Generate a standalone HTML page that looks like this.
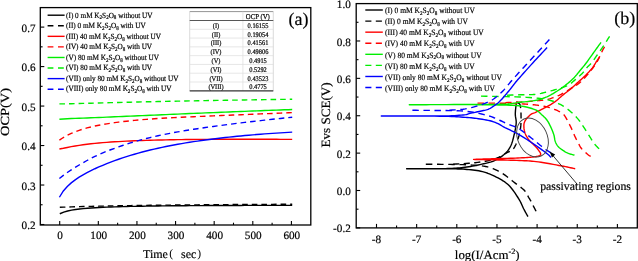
<!DOCTYPE html>
<html><head><meta charset="utf-8"><style>
html,body{margin:0;padding:0;background:#fff;}
svg{display:block;will-change:transform;}
text{font-family:"Liberation Serif",serif;fill:#000;text-rendering:geometricPrecision;stroke:#000;stroke-width:0.18px;}
.tl{font-size:11.2px;}
.lg{font-size:7.9px;}
.lg2{font-size:8.1px;}
.sub{font-size:5.5px;}
.tb{font-size:6.4px;}
.pl{font-size:18px;}
.al{font-size:12px;}
.ann{font-size:11.8px;}
.sup{font-size:8px;}
</style></head><body>
<svg width="638" height="261" viewBox="0 0 638 261">
<rect width="638" height="261" fill="#fff"/>
<path d="M59.80,213.74 L63.74,212.08 L67.68,210.97 L71.62,210.15 L75.56,209.53 L79.49,209.02 L83.43,208.61 L87.37,208.27 L91.31,207.97 L95.25,207.72 L99.19,207.50 L103.13,207.31 L107.07,207.14 L111.01,206.98 L114.95,206.85 L118.88,206.72 L122.82,206.61 L126.76,206.51 L130.70,206.42 L134.64,206.33 L138.58,206.26 L142.52,206.19 L146.46,206.12 L150.40,206.06 L154.34,206.01 L158.27,205.96 L162.21,205.91 L166.15,205.86 L170.09,205.82 L174.03,205.79 L177.97,205.75 L181.91,205.72 L185.85,205.69 L189.79,205.66 L193.73,205.63 L197.66,205.61 L201.60,205.59 L205.54,205.57 L209.48,205.55 L213.42,205.53 L217.36,205.51 L221.30,205.50 L225.24,205.48 L229.18,205.47 L233.12,205.45 L237.05,205.44 L240.99,205.43 L244.93,205.42 L248.87,205.41 L252.81,205.41 L256.75,205.40 L260.69,205.39 L264.63,205.39 L268.57,205.38 L272.51,205.37 L276.44,205.37 L280.38,205.37 L284.32,205.36 L288.26,205.36 L292.20,205.36" fill="none" stroke="#000" stroke-width="1.4"/>
<path d="M59.80,207.20 L63.74,207.15 L67.68,207.04 L71.62,206.91 L75.56,206.79 L79.49,206.67 L83.43,206.56 L87.37,206.45 L91.31,206.35 L95.25,206.25 L99.19,206.16 L103.13,206.08 L107.07,205.99 L111.01,205.92 L114.95,205.84 L118.88,205.77 L122.82,205.71 L126.76,205.64 L130.70,205.58 L134.64,205.52 L138.58,205.47 L142.52,205.41 L146.46,205.36 L150.40,205.31 L154.34,205.26 L158.27,205.22 L162.21,205.17 L166.15,205.13 L170.09,205.09 L174.03,205.05 L177.97,205.01 L181.91,204.97 L185.85,204.94 L189.79,204.90 L193.73,204.87 L197.66,204.83 L201.60,204.80 L205.54,204.77 L209.48,204.74 L213.42,204.71 L217.36,204.68 L221.30,204.65 L225.24,204.62 L229.18,204.60 L233.12,204.57 L237.05,204.54 L240.99,204.52 L244.93,204.50 L248.87,204.47 L252.81,204.45 L256.75,204.43 L260.69,204.40 L264.63,204.38 L268.57,204.36 L272.51,204.34 L276.44,204.32 L280.38,204.30 L284.32,204.28 L288.26,204.26 L292.20,204.25" fill="none" stroke="#000" stroke-width="1.4" stroke-dasharray="5.6,4.0"/>
<path d="M59.40,148.94 L63.35,148.25 L67.29,147.45 L71.24,146.68 L75.18,145.97 L79.13,145.34 L83.07,144.77 L87.02,144.26 L90.97,143.80 L94.91,143.39 L98.86,143.01 L102.80,142.67 L106.75,142.36 L110.69,142.07 L114.64,141.82 L118.59,141.58 L122.53,141.36 L126.48,141.16 L130.42,140.98 L134.37,140.81 L138.32,140.66 L142.26,140.52 L146.21,140.39 L150.15,140.27 L154.10,140.15 L158.04,140.05 L161.99,139.96 L165.94,139.88 L169.88,139.80 L173.83,139.73 L177.77,139.66 L181.72,139.60 L185.66,139.55 L189.61,139.50 L193.56,139.46 L197.50,139.42 L201.45,139.39 L205.39,139.36 L209.34,139.33 L213.28,139.31 L217.23,139.29 L221.18,139.27 L225.12,139.26 L229.07,139.25 L233.01,139.24 L236.96,139.24 L240.91,139.23 L244.85,139.23 L248.80,139.24 L252.74,139.24 L256.69,139.25 L260.63,139.26 L264.58,139.27 L268.53,139.28 L272.47,139.30 L276.42,139.31 L280.36,139.33 L284.31,139.35 L288.25,139.37 L292.20,139.39" fill="none" stroke="#ff0000" stroke-width="1.4"/>
<path d="M59.40,140.15 L63.35,137.54 L67.29,135.30 L71.24,133.39 L75.18,131.75 L79.13,130.32 L83.07,129.06 L87.02,127.94 L90.97,126.95 L94.91,126.05 L98.86,125.24 L102.80,124.50 L106.75,123.83 L110.69,123.21 L114.64,122.64 L118.59,122.12 L122.53,121.63 L126.48,121.18 L130.42,120.76 L134.37,120.37 L138.32,120.01 L142.26,119.67 L146.21,119.36 L150.15,119.06 L154.10,118.78 L158.04,118.52 L161.99,118.28 L165.94,118.05 L169.88,117.83 L173.83,117.62 L177.77,117.42 L181.72,117.23 L185.66,117.04 L189.61,116.86 L193.56,116.69 L197.50,116.51 L201.45,116.34 L205.39,116.18 L209.34,116.01 L213.28,115.85 L217.23,115.69 L221.18,115.53 L225.12,115.37 L229.07,115.21 L233.01,115.05 L236.96,114.89 L240.91,114.73 L244.85,114.57 L248.80,114.41 L252.74,114.24 L256.69,114.08 L260.63,113.92 L264.58,113.76 L268.53,113.59 L272.47,113.43 L276.42,113.26 L280.36,113.10 L284.31,112.93 L288.25,112.76 L292.20,112.59" fill="none" stroke="#ff0000" stroke-width="1.4" stroke-dasharray="5.6,4.0"/>
<path d="M59.40,119.27 L63.35,118.93 L67.29,118.72 L71.24,118.56 L75.18,118.42 L79.13,118.27 L83.07,118.12 L87.02,117.97 L90.97,117.82 L94.91,117.66 L98.86,117.49 L102.80,117.33 L106.75,117.16 L110.69,116.99 L114.64,116.82 L118.59,116.65 L122.53,116.48 L126.48,116.31 L130.42,116.13 L134.37,115.96 L138.32,115.79 L142.26,115.61 L146.21,115.44 L150.15,115.27 L154.10,115.10 L158.04,114.93 L161.99,114.75 L165.94,114.58 L169.88,114.41 L173.83,114.24 L177.77,114.08 L181.72,113.91 L185.66,113.74 L189.61,113.57 L193.56,113.41 L197.50,113.24 L201.45,113.08 L205.39,112.92 L209.34,112.75 L213.28,112.59 L217.23,112.43 L221.18,112.27 L225.12,112.11 L229.07,111.95 L233.01,111.80 L236.96,111.64 L240.91,111.48 L244.85,111.33 L248.80,111.17 L252.74,111.02 L256.69,110.87 L260.63,110.72 L264.58,110.57 L268.53,110.42 L272.47,110.27 L276.42,110.12 L280.36,109.97 L284.31,109.82 L288.25,109.68 L292.20,109.53" fill="none" stroke="#00ee00" stroke-width="1.4"/>
<path d="M59.40,103.90 L63.35,103.88 L67.29,103.81 L71.24,103.72 L75.18,103.62 L79.13,103.52 L83.07,103.41 L87.02,103.30 L90.97,103.19 L94.91,103.09 L98.86,102.98 L102.80,102.87 L106.75,102.77 L110.69,102.67 L114.64,102.57 L118.59,102.47 L122.53,102.37 L126.48,102.27 L130.42,102.18 L134.37,102.09 L138.32,101.99 L142.26,101.90 L146.21,101.82 L150.15,101.73 L154.10,101.64 L158.04,101.56 L161.99,101.48 L165.94,101.39 L169.88,101.31 L173.83,101.23 L177.77,101.15 L181.72,101.08 L185.66,101.00 L189.61,100.92 L193.56,100.85 L197.50,100.78 L201.45,100.70 L205.39,100.63 L209.34,100.56 L213.28,100.49 L217.23,100.42 L221.18,100.35 L225.12,100.28 L229.07,100.22 L233.01,100.15 L236.96,100.09 L240.91,100.02 L244.85,99.96 L248.80,99.89 L252.74,99.83 L256.69,99.77 L260.63,99.71 L264.58,99.64 L268.53,99.58 L272.47,99.52 L276.42,99.46 L280.36,99.40 L284.31,99.35 L288.25,99.29 L292.20,99.23" fill="none" stroke="#00ee00" stroke-width="1.4" stroke-dasharray="5.6,4.0"/>
<path d="M59.40,197.25 L63.35,190.97 L67.29,186.46 L71.24,182.88 L75.18,179.85 L79.13,177.20 L83.07,174.82 L87.02,172.65 L90.97,170.63 L94.91,168.74 L98.86,166.97 L102.80,165.29 L106.75,163.68 L110.69,162.15 L114.64,160.68 L118.59,159.27 L122.53,157.93 L126.48,156.64 L130.42,155.41 L134.37,154.24 L138.32,153.12 L142.26,152.05 L146.21,151.03 L150.15,150.05 L154.10,149.11 L158.04,148.22 L161.99,147.36 L165.94,146.54 L169.88,145.75 L173.83,145.00 L177.77,144.28 L181.72,143.58 L185.66,142.92 L189.61,142.28 L193.56,141.67 L197.50,141.08 L201.45,140.51 L205.39,139.97 L209.34,139.45 L213.28,138.94 L217.23,138.46 L221.18,138.00 L225.12,137.55 L229.07,137.12 L233.01,136.71 L236.96,136.31 L240.91,135.93 L244.85,135.56 L248.80,135.21 L252.74,134.87 L256.69,134.54 L260.63,134.23 L264.58,133.92 L268.53,133.63 L272.47,133.35 L276.42,133.09 L280.36,132.83 L284.31,132.58 L288.25,132.34 L292.20,132.11" fill="none" stroke="#0000ff" stroke-width="1.4"/>
<path d="M59.40,178.48 L63.35,175.36 L67.29,172.54 L71.24,169.90 L75.18,167.40 L79.13,165.01 L83.07,162.72 L87.02,160.51 L90.97,158.40 L94.91,156.41 L98.86,154.56 L102.80,152.85 L106.75,151.26 L110.69,149.74 L114.64,148.28 L118.59,146.86 L122.53,145.50 L126.48,144.19 L130.42,142.95 L134.37,141.76 L138.32,140.63 L142.26,139.56 L146.21,138.54 L150.15,137.56 L154.10,136.63 L158.04,135.75 L161.99,134.90 L165.94,134.10 L169.88,133.33 L173.83,132.59 L177.77,131.88 L181.72,131.20 L185.66,130.54 L189.61,129.91 L193.56,129.29 L197.50,128.70 L201.45,128.11 L205.39,127.54 L209.34,126.99 L213.28,126.45 L217.23,125.91 L221.18,125.39 L225.12,124.87 L229.07,124.37 L233.01,123.87 L236.96,123.38 L240.91,122.90 L244.85,122.42 L248.80,121.96 L252.74,121.50 L256.69,121.04 L260.63,120.60 L264.58,120.16 L268.53,119.72 L272.47,119.29 L276.42,118.87 L280.36,118.46 L284.31,118.05 L288.25,117.64 L292.20,117.24" fill="none" stroke="#0000ff" stroke-width="1.4" stroke-dasharray="5.6,4.0"/>
<rect x="40.3" y="7.6" width="270.5" height="217.4" fill="none" stroke="#000" stroke-width="1.3"/>
<line x1="40.3" y1="224.50" x2="44.3" y2="224.50" stroke="#000" stroke-width="1.1"/>
<text x="35.6" y="229.10" class="tl" text-anchor="end">0.2</text>
<line x1="40.3" y1="204.76" x2="42.599999999999994" y2="204.76" stroke="#000" stroke-width="1.1"/>
<line x1="40.3" y1="185.02" x2="44.3" y2="185.02" stroke="#000" stroke-width="1.1"/>
<text x="35.6" y="189.62" class="tl" text-anchor="end">0.3</text>
<line x1="40.3" y1="165.28" x2="42.599999999999994" y2="165.28" stroke="#000" stroke-width="1.1"/>
<line x1="40.3" y1="145.54" x2="44.3" y2="145.54" stroke="#000" stroke-width="1.1"/>
<text x="35.6" y="150.14" class="tl" text-anchor="end">0.4</text>
<line x1="40.3" y1="125.80" x2="42.599999999999994" y2="125.80" stroke="#000" stroke-width="1.1"/>
<line x1="40.3" y1="106.06" x2="44.3" y2="106.06" stroke="#000" stroke-width="1.1"/>
<text x="35.6" y="110.66" class="tl" text-anchor="end">0.5</text>
<line x1="40.3" y1="86.32" x2="42.599999999999994" y2="86.32" stroke="#000" stroke-width="1.1"/>
<line x1="40.3" y1="66.58" x2="44.3" y2="66.58" stroke="#000" stroke-width="1.1"/>
<text x="35.6" y="71.18" class="tl" text-anchor="end">0.6</text>
<line x1="40.3" y1="46.84" x2="42.599999999999994" y2="46.84" stroke="#000" stroke-width="1.1"/>
<line x1="40.3" y1="27.10" x2="44.3" y2="27.10" stroke="#000" stroke-width="1.1"/>
<text x="35.6" y="31.70" class="tl" text-anchor="end">0.7</text>
<line x1="59.70" y1="225.0" x2="59.70" y2="221.0" stroke="#000" stroke-width="1.1"/>
<text x="60.10" y="239.0" class="tl" text-anchor="middle">0</text>
<line x1="79.01" y1="225.0" x2="79.01" y2="222.7" stroke="#000" stroke-width="1.1"/>
<line x1="98.32" y1="225.0" x2="98.32" y2="221.0" stroke="#000" stroke-width="1.1"/>
<text x="98.72" y="239.0" class="tl" text-anchor="middle">100</text>
<line x1="117.63" y1="225.0" x2="117.63" y2="222.7" stroke="#000" stroke-width="1.1"/>
<line x1="136.94" y1="225.0" x2="136.94" y2="221.0" stroke="#000" stroke-width="1.1"/>
<text x="137.34" y="239.0" class="tl" text-anchor="middle">200</text>
<line x1="156.25" y1="225.0" x2="156.25" y2="222.7" stroke="#000" stroke-width="1.1"/>
<line x1="175.56" y1="225.0" x2="175.56" y2="221.0" stroke="#000" stroke-width="1.1"/>
<text x="175.96" y="239.0" class="tl" text-anchor="middle">300</text>
<line x1="194.87" y1="225.0" x2="194.87" y2="222.7" stroke="#000" stroke-width="1.1"/>
<line x1="214.18" y1="225.0" x2="214.18" y2="221.0" stroke="#000" stroke-width="1.1"/>
<text x="214.58" y="239.0" class="tl" text-anchor="middle">400</text>
<line x1="233.49" y1="225.0" x2="233.49" y2="222.7" stroke="#000" stroke-width="1.1"/>
<line x1="252.80" y1="225.0" x2="252.80" y2="221.0" stroke="#000" stroke-width="1.1"/>
<text x="253.20" y="239.0" class="tl" text-anchor="middle">500</text>
<line x1="272.11" y1="225.0" x2="272.11" y2="222.7" stroke="#000" stroke-width="1.1"/>
<line x1="291.42" y1="225.0" x2="291.42" y2="221.0" stroke="#000" stroke-width="1.1"/>
<text x="291.82" y="239.0" class="tl" text-anchor="middle">600</text>
<line x1="47.6" y1="15.20" x2="64.6" y2="15.20" stroke="#000" stroke-width="1.4"/>
<text transform="translate(66.1,17.50) scale(0.915,1)" class="lg">(I) 0 mM K<tspan class="sub" dy="1.9">2</tspan><tspan dy="-1.9">S</tspan><tspan class="sub" dy="1.9">2</tspan><tspan dy="-1.9">O</tspan><tspan class="sub" dy="1.9">8</tspan><tspan dy="-1.9"> </tspan>without UV</text>
<line x1="47.6" y1="25.77" x2="64.6" y2="25.77" stroke="#000" stroke-width="1.4" stroke-dasharray="5.8,4.6"/>
<text transform="translate(66.1,28.07) scale(0.915,1)" class="lg">(II) 0 mM K<tspan class="sub" dy="1.9">2</tspan><tspan dy="-1.9">S</tspan><tspan class="sub" dy="1.9">2</tspan><tspan dy="-1.9">O</tspan><tspan class="sub" dy="1.9">8</tspan><tspan dy="-1.9"> </tspan>with UV</text>
<line x1="47.6" y1="36.34" x2="64.6" y2="36.34" stroke="#ff0000" stroke-width="1.4"/>
<text transform="translate(66.1,38.64) scale(0.915,1)" class="lg">(III) 40 mM K<tspan class="sub" dy="1.9">2</tspan><tspan dy="-1.9">S</tspan><tspan class="sub" dy="1.9">2</tspan><tspan dy="-1.9">O</tspan><tspan class="sub" dy="1.9">8</tspan><tspan dy="-1.9"> </tspan>without UV</text>
<line x1="47.6" y1="46.91" x2="64.6" y2="46.91" stroke="#ff0000" stroke-width="1.4" stroke-dasharray="5.8,4.6"/>
<text transform="translate(66.1,49.21) scale(0.915,1)" class="lg">(IV) 40 mM K<tspan class="sub" dy="1.9">2</tspan><tspan dy="-1.9">S</tspan><tspan class="sub" dy="1.9">2</tspan><tspan dy="-1.9">O</tspan><tspan class="sub" dy="1.9">8</tspan><tspan dy="-1.9"> </tspan>with UV</text>
<line x1="47.6" y1="57.48" x2="64.6" y2="57.48" stroke="#00ee00" stroke-width="1.4"/>
<text transform="translate(66.1,59.78) scale(0.915,1)" class="lg">(V) 80 mM K<tspan class="sub" dy="1.9">2</tspan><tspan dy="-1.9">S</tspan><tspan class="sub" dy="1.9">2</tspan><tspan dy="-1.9">O</tspan><tspan class="sub" dy="1.9">8</tspan><tspan dy="-1.9"> </tspan>without UV</text>
<line x1="47.6" y1="68.05" x2="64.6" y2="68.05" stroke="#00ee00" stroke-width="1.4" stroke-dasharray="5.8,4.6"/>
<text transform="translate(66.1,70.35) scale(0.915,1)" class="lg">(VI) 80 mM K<tspan class="sub" dy="1.9">2</tspan><tspan dy="-1.9">S</tspan><tspan class="sub" dy="1.9">2</tspan><tspan dy="-1.9">O</tspan><tspan class="sub" dy="1.9">8</tspan><tspan dy="-1.9"> </tspan>with UV</text>
<line x1="47.6" y1="78.62" x2="64.6" y2="78.62" stroke="#0000ff" stroke-width="1.4"/>
<text transform="translate(66.1,80.92) scale(0.915,1)" class="lg">(VII) only 80 mM K<tspan class="sub" dy="1.9">2</tspan><tspan dy="-1.9">S</tspan><tspan class="sub" dy="1.9">2</tspan><tspan dy="-1.9">O</tspan><tspan class="sub" dy="1.9">8</tspan><tspan dy="-1.9"> </tspan>without UV</text>
<line x1="47.6" y1="89.19" x2="64.6" y2="89.19" stroke="#0000ff" stroke-width="1.4" stroke-dasharray="5.8,4.6"/>
<text transform="translate(66.1,91.49) scale(0.915,1)" class="lg">(VIII) only 80 mM K<tspan class="sub" dy="1.9">2</tspan><tspan dy="-1.9">S</tspan><tspan class="sub" dy="1.9">2</tspan><tspan dy="-1.9">O</tspan><tspan class="sub" dy="1.9">8</tspan><tspan dy="-1.9"> </tspan>with UV</text>
<rect x="189.7" y="11.6" width="83.60000000000002" height="79.2" fill="#fff" stroke="none"/>
<line x1="189.7" y1="11.6" x2="273.3" y2="11.6" stroke="#777" stroke-width="0.8"/>
<line x1="189.7" y1="11.6" x2="189.7" y2="90.8" stroke="#ccc" stroke-width="0.7"/>
<line x1="273.3" y1="11.6" x2="273.3" y2="90.8" stroke="#ccc" stroke-width="0.7"/>
<line x1="242.9" y1="11.6" x2="242.9" y2="90.8" stroke="#ddd" stroke-width="0.7"/>
<line x1="189.7" y1="20.5" x2="273.3" y2="20.5" stroke="#444" stroke-width="0.9"/>
<line x1="189.7" y1="29.29" x2="273.3" y2="29.29" stroke="#ddd" stroke-width="0.7"/>
<line x1="189.7" y1="38.08" x2="273.3" y2="38.08" stroke="#ddd" stroke-width="0.7"/>
<line x1="189.7" y1="46.86" x2="273.3" y2="46.86" stroke="#ddd" stroke-width="0.7"/>
<line x1="189.7" y1="55.65" x2="273.3" y2="55.65" stroke="#ddd" stroke-width="0.7"/>
<line x1="189.7" y1="64.44" x2="273.3" y2="64.44" stroke="#ddd" stroke-width="0.7"/>
<line x1="189.7" y1="73.22" x2="273.3" y2="73.22" stroke="#ddd" stroke-width="0.7"/>
<line x1="189.7" y1="82.01" x2="273.3" y2="82.01" stroke="#ddd" stroke-width="0.7"/>
<line x1="189.7" y1="90.8" x2="273.3" y2="90.8" stroke="#333" stroke-width="1.2"/>
<text transform="translate(257.8,19.0) scale(1,1.1)" class="tb" text-anchor="middle" style="font-size:6.8px">OCP (V)</text>
<text transform="translate(216,27.89) scale(1,1.1)" class="tb" text-anchor="middle">(I)</text>
<text transform="translate(258,27.89) scale(1,1.1)" class="tb" text-anchor="middle">0.16155</text>
<text transform="translate(216,36.68) scale(1,1.1)" class="tb" text-anchor="middle">(II)</text>
<text transform="translate(258,36.68) scale(1,1.1)" class="tb" text-anchor="middle">0.19054</text>
<text transform="translate(216,45.47) scale(1,1.1)" class="tb" text-anchor="middle">(III)</text>
<text transform="translate(258,45.47) scale(1,1.1)" class="tb" text-anchor="middle">0.41561</text>
<text transform="translate(216,54.26) scale(1,1.1)" class="tb" text-anchor="middle">(IV)</text>
<text transform="translate(258,54.26) scale(1,1.1)" class="tb" text-anchor="middle">0.49806</text>
<text transform="translate(216,63.04) scale(1,1.1)" class="tb" text-anchor="middle">(V)</text>
<text transform="translate(258,63.04) scale(1,1.1)" class="tb" text-anchor="middle">0.4915</text>
<text transform="translate(216,71.83) scale(1,1.1)" class="tb" text-anchor="middle">(VI)</text>
<text transform="translate(258,71.83) scale(1,1.1)" class="tb" text-anchor="middle">0.5292</text>
<text transform="translate(216,80.62) scale(1,1.1)" class="tb" text-anchor="middle">(VII)</text>
<text transform="translate(258,80.62) scale(1,1.1)" class="tb" text-anchor="middle">0.43523</text>
<text transform="translate(216,89.41) scale(1,1.1)" class="tb" text-anchor="middle">(VIII)</text>
<text transform="translate(258,89.41) scale(1,1.1)" class="tb" text-anchor="middle">0.4775</text>
<text x="288.6" y="25.3" class="pl">(a)</text>
<text transform="translate(9.4,112.0) rotate(-90)" class="al" text-anchor="middle" style="font-size:12.4px" textLength="48" lengthAdjust="spacingAndGlyphs">OCP(V)</text>
<text x="143.0" y="257.6" class="al">Time</text>
<text x="169.2" y="256.6" class="al" style="font-size:11.6px;stroke-width:0">(</text>
<text x="181.0" y="257.6" class="al">sec</text>
<text x="197.2" y="256.6" class="al" style="font-size:11.6px;stroke-width:0">)</text>
<path d="M527.90,216.60 L527.40,215.67 L526.90,214.77 L526.41,213.87 L525.92,212.97 L525.42,212.06 L524.90,211.10 L524.37,210.08 L523.80,209.00 L523.24,207.86 L522.70,206.68 L522.15,205.45 L521.59,204.19 L520.97,202.87 L520.28,201.50 L519.50,200.08 L518.60,198.60 L517.58,197.00 L516.47,195.27 L515.26,193.45 L513.99,191.59 L512.64,189.74 L511.24,187.96 L509.79,186.30 L508.30,184.80 L506.74,183.45 L505.10,182.20 L503.38,181.04 L501.62,179.95 L499.83,178.93 L498.03,177.98 L496.25,177.07 L494.50,176.20 L492.79,175.38 L491.09,174.62 L489.41,173.93 L487.72,173.28 L486.01,172.69 L484.28,172.15 L482.52,171.65 L480.70,171.20 L478.82,170.80 L476.89,170.47 L474.92,170.20 L472.92,169.97 L470.92,169.77 L468.92,169.60 L466.94,169.45 L465.00,169.30 L463.13,169.17 L461.32,169.07 L459.54,168.99 L457.77,168.94 L455.96,168.90 L454.09,168.86 L452.11,168.83 L450.00,168.80 L447.76,168.77 L445.43,168.74 L443.02,168.73 L440.53,168.72 L437.97,168.71 L435.36,168.71 L432.70,168.70 L430.00,168.70 L427.24,168.70 L424.39,168.69 L421.47,168.69 L418.51,168.69 L415.52,168.70 L412.53,168.70 L409.55,168.70 L406.60,168.70 L409.55,168.70 L412.53,168.70 L415.52,168.71 L418.51,168.71 L421.47,168.71 L424.39,168.71 L427.24,168.71 L430.00,168.70 L432.70,168.69 L435.36,168.69 L437.97,168.68 L440.52,168.67 L443.02,168.66 L445.43,168.62 L447.76,168.57 L450.00,168.50 L452.11,168.41 L454.10,168.31 L455.99,168.19 L457.81,168.06 L459.59,167.90 L461.37,167.73 L463.16,167.53 L465.00,167.30 L466.88,167.04 L468.76,166.76 L470.65,166.45 L472.53,166.12 L474.41,165.77 L476.29,165.39 L478.15,165.01 L480.00,164.60 L481.87,164.19 L483.76,163.78 L485.66,163.36 L487.54,162.91 L489.39,162.43 L491.18,161.91 L492.89,161.34 L494.50,160.70 L496.02,159.99 L497.47,159.21 L498.86,158.37 L500.19,157.49 L501.44,156.59 L502.63,155.66 L503.75,154.73 L504.80,153.80 L505.76,152.89 L506.64,152.00 L507.44,151.10 L508.18,150.19 L508.86,149.24 L509.50,148.23 L510.11,147.16 L510.70,146.00 L511.26,144.74 L511.78,143.39 L512.25,141.96 L512.69,140.48 L513.10,138.98 L513.49,137.46 L513.85,135.96 L514.20,134.50 L514.54,133.05 L514.87,131.57 L515.19,130.09 L515.48,128.61 L515.73,127.14 L515.94,125.71 L516.10,124.33 L516.20,123.00 L516.21,121.75 L516.13,120.58 L515.98,119.46 L515.80,118.37 L515.61,117.28 L515.45,116.17 L515.33,115.02 L515.30,113.80 L515.35,112.43 L515.45,110.91 L515.58,109.31 L515.75,107.71 L515.94,106.18 L516.13,104.80 L516.32,103.65 L516.50,102.80 L516.67,102.29 L516.85,102.06 L517.04,102.05 L517.23,102.20 L517.42,102.43 L517.62,102.69 L517.81,102.90 L518.00,103.00" fill="none" stroke="#000" stroke-width="1.4" stroke-linejoin="round"/>
<path d="M536.10,211.30 L535.79,210.70 L535.47,210.10 L535.15,209.50 L534.84,208.89 L534.52,208.29 L534.21,207.69 L533.90,207.10 L533.60,206.50 L533.31,205.91 L533.02,205.31 L532.74,204.72 L532.46,204.13 L532.18,203.54 L531.90,202.96 L531.61,202.38 L531.30,201.80 L530.98,201.23 L530.65,200.66 L530.30,200.09 L529.96,199.53 L529.61,198.97 L529.26,198.41 L528.93,197.86 L528.60,197.30 L528.29,196.74 L527.99,196.17 L527.70,195.61 L527.42,195.04 L527.13,194.49 L526.84,193.94 L526.53,193.41 L526.20,192.90 L525.89,192.43 L525.61,192.00 L525.34,191.61 L525.05,191.21 L524.72,190.81 L524.32,190.36 L523.82,189.87 L523.20,189.30 L522.48,188.68 L521.69,188.03 L520.82,187.35 L519.88,186.62 L518.84,185.84 L517.73,185.00 L516.51,184.09 L515.20,183.10 L513.75,181.98 L512.16,180.71 L510.45,179.34 L508.66,177.93 L506.83,176.52 L504.99,175.16 L503.16,173.90 L501.40,172.80 L499.70,171.82 L498.04,170.92 L496.39,170.09 L494.74,169.32 L493.05,168.63 L491.32,167.99 L489.51,167.42 L487.60,166.90 L485.60,166.46 L483.52,166.11 L481.38,165.84 L479.19,165.62 L476.94,165.44 L474.66,165.29 L472.34,165.15 L470.00,165.00 L467.64,164.86 L465.27,164.75 L462.86,164.66 L460.41,164.59 L457.91,164.53 L455.35,164.48 L452.72,164.44 L450.00,164.40 L447.18,164.36 L444.25,164.34 L441.23,164.33 L438.16,164.32 L435.06,164.32 L431.95,164.31 L428.85,164.31 L425.80,164.30" fill="none" stroke="#000" stroke-width="1.4" stroke-linejoin="round" stroke-dasharray="6.545,4.675"/>
<path d="M453.12,164.09 L456.32,163.97 L459.56,163.84 L462.79,163.67 L465.99,163.49 L469.12,163.26 L472.13,163.00 L475.00,162.70 L477.74,162.37 L480.40,162.01 L482.97,161.62 L485.45,161.19 L487.85,160.73 L490.15,160.21 L492.37,159.64 L494.50,159.00 L496.56,158.25 L498.56,157.38 L500.49,156.42 L502.33,155.43 L504.04,154.45 L505.62,153.52 L507.05,152.69 L508.30,152.00 L509.32,151.51 L510.12,151.20 L510.73,150.99 L511.22,150.84 L511.64,150.67 L512.05,150.41 L512.48,150.01 L513.00,149.40 L513.59,148.59 L514.19,147.64 L514.80,146.58 L515.41,145.43 L516.00,144.19 L516.56,142.89 L517.10,141.56 L517.60,140.20 L518.07,138.80 L518.52,137.32 L518.96,135.78 L519.36,134.19 L519.74,132.56 L520.07,130.91 L520.36,129.26 L520.60,127.60 L520.78,125.90 L520.91,124.12 L521.00,122.29 L521.04,120.46 L521.06,118.66 L521.05,116.93 L521.03,115.29 L521.00,113.80 L520.96,112.41 L520.89,111.09 L520.81,109.83 L520.71,108.66 L520.58,107.58 L520.44,106.60 L520.28,105.74 L520.10,105.00 L519.89,104.42 L519.66,104.02 L519.40,103.75 L519.13,103.58 L518.84,103.45 L518.55,103.34 L518.27,103.20 L518.00,103.00" fill="none" stroke="#000" stroke-width="1.4" stroke-linejoin="round" stroke-dasharray="6.163,4.402"/>
<path d="M575.20,168.70 L573.54,168.36 L571.97,168.03 L570.43,167.70 L568.87,167.38 L567.25,167.04 L565.50,166.68 L563.57,166.31 L561.40,165.90 L558.92,165.44 L556.14,164.92 L553.16,164.37 L550.06,163.81 L546.95,163.25 L543.90,162.74 L541.02,162.28 L538.40,161.90 L536.07,161.60 L533.97,161.37 L532.01,161.18 L530.14,161.04 L528.27,160.92 L526.34,160.81 L524.27,160.71 L522.00,160.60 L519.47,160.49 L516.73,160.39 L513.85,160.31 L510.91,160.24 L507.98,160.17 L505.14,160.11 L502.45,160.06 L500.00,160.00 L497.77,159.95 L495.67,159.90 L493.70,159.87 L491.84,159.83 L490.05,159.80 L488.33,159.77 L486.65,159.74 L485.00,159.70 L483.40,159.66 L481.90,159.62 L480.46,159.59 L479.07,159.55 L477.72,159.51 L476.37,159.47 L475.00,159.44 L473.60,159.40 L475.00,159.35 L476.37,159.30 L477.72,159.25 L479.08,159.20 L480.46,159.15 L481.90,159.10 L483.40,159.05 L485.00,159.00 L486.67,158.95 L488.38,158.91 L490.14,158.86 L491.96,158.82 L493.85,158.77 L495.81,158.72 L497.86,158.66 L500.00,158.60 L502.31,158.53 L504.81,158.45 L507.44,158.37 L510.12,158.28 L512.79,158.19 L515.38,158.10 L517.80,158.00 L520.00,157.90 L522.00,157.80 L523.89,157.70 L525.67,157.60 L527.34,157.49 L528.91,157.38 L530.37,157.26 L531.73,157.14 L533.00,157.00 L534.16,156.85 L535.21,156.70 L536.15,156.54 L536.99,156.37 L537.74,156.19 L538.41,156.00 L538.99,155.81 L539.50,155.60 L539.92,155.39 L540.22,155.17 L540.44,154.94 L540.57,154.70 L540.64,154.45 L540.66,154.18 L540.64,153.90 L540.60,153.60 L540.52,153.28 L540.38,152.94 L540.19,152.58 L539.95,152.21 L539.68,151.82 L539.40,151.42 L539.10,151.02 L538.80,150.60 L538.51,150.19 L538.24,149.79 L537.95,149.39 L537.64,148.97 L537.30,148.52 L536.90,148.04 L536.44,147.50 L535.90,146.90 L535.24,146.22 L534.47,145.47 L533.62,144.66 L532.72,143.82 L531.81,142.95 L530.93,142.08 L530.12,141.23 L529.40,140.40 L528.76,139.60 L528.17,138.81 L527.61,138.02 L527.09,137.23 L526.61,136.44 L526.17,135.64 L525.76,134.83 L525.40,134.00 L525.08,133.15 L524.79,132.26 L524.54,131.37 L524.34,130.46 L524.17,129.56 L524.04,128.68 L523.95,127.82 L523.90,127.00 L523.88,126.22 L523.87,125.48 L523.90,124.76 L523.97,124.06 L524.09,123.37 L524.28,122.66 L524.55,121.95 L524.90,121.20 L525.36,120.40 L525.93,119.55 L526.59,118.68 L527.31,117.80 L528.06,116.95 L528.83,116.15 L529.58,115.42 L530.30,114.80 L530.97,114.31 L531.62,113.93 L532.26,113.63 L532.91,113.39 L533.59,113.15 L534.32,112.90 L535.12,112.59 L536.00,112.20 L536.98,111.73 L538.05,111.21 L539.19,110.66 L540.38,110.08 L541.60,109.47 L542.82,108.85 L544.03,108.23 L545.20,107.60 L546.36,106.97 L547.52,106.34 L548.69,105.70 L549.86,105.05 L551.02,104.38 L552.16,103.68 L553.29,102.96 L554.40,102.20 L555.48,101.40 L556.55,100.55 L557.59,99.66 L558.62,98.76 L559.65,97.84 L560.67,96.94 L561.68,96.05 L562.70,95.20 L563.72,94.38 L564.75,93.57 L565.78,92.78 L566.80,91.99 L567.81,91.22 L568.80,90.44 L569.76,89.67 L570.70,88.90 L571.59,88.14 L572.43,87.39 L573.25,86.65 L574.04,85.92 L574.84,85.17 L575.66,84.41 L576.50,83.62 L577.40,82.80 L578.36,81.94 L579.36,81.04 L580.40,80.12 L581.45,79.17 L582.50,78.22 L583.54,77.27 L584.54,76.33 L585.50,75.40 L586.42,74.48 L587.33,73.55 L588.22,72.62 L589.09,71.70 L589.92,70.78 L590.73,69.87 L591.49,68.98 L592.20,68.10 L592.86,67.23 L593.47,66.35 L594.05,65.48 L594.58,64.62 L595.09,63.79 L595.57,62.99 L596.04,62.22 L596.50,61.50 L596.94,60.84 L597.34,60.23 L597.72,59.66 L598.08,59.12 L598.43,58.60 L598.78,58.08 L599.13,57.55 L599.50,57.00" fill="none" stroke="#ff0000" stroke-width="1.4" stroke-linejoin="round"/>
<path d="M590.70,156.40 L590.41,156.23 L590.13,156.07 L589.86,155.92 L589.59,155.77 L589.30,155.60 L589.00,155.41 L588.67,155.18 L588.30,154.90 L587.89,154.57 L587.44,154.19 L586.96,153.77 L586.46,153.33 L585.96,152.87 L585.45,152.40 L584.97,151.94 L584.50,151.50 L584.05,151.07 L583.60,150.64 L583.15,150.22 L582.71,149.79 L582.28,149.35 L581.86,148.91 L581.47,148.46 L581.10,148.00 L580.76,147.53 L580.45,147.05 L580.17,146.57 L579.89,146.08 L579.63,145.58 L579.36,145.07 L579.09,144.54 L578.80,144.00 L578.50,143.44 L578.19,142.87 L577.88,142.28 L577.56,141.68 L577.25,141.06 L576.93,140.45 L576.61,139.82 L576.30,139.20 L575.98,138.57 L575.66,137.92 L575.34,137.26 L575.02,136.60 L574.70,135.94 L574.39,135.28 L574.09,134.63 L573.80,134.00 L573.53,133.38 L573.27,132.77 L573.03,132.17 L572.79,131.57 L572.55,130.98 L572.31,130.38 L572.06,129.79 L571.80,129.20 L571.53,128.61 L571.25,128.01 L570.96,127.42 L570.67,126.83 L570.38,126.24 L570.08,125.66 L569.79,125.08 L569.50,124.50 L569.22,123.94 L568.96,123.39 L568.70,122.85 L568.44,122.31 L568.17,121.77 L567.87,121.20 L567.55,120.62 L567.20,120.00 L566.82,119.33 L566.41,118.60 L565.99,117.84 L565.54,117.07 L565.07,116.31 L564.57,115.58 L564.05,114.91 L563.50,114.30 L562.91,113.76 L562.27,113.27 L561.59,112.83 L560.90,112.41 L560.20,112.03 L559.51,111.67 L558.84,111.33 L558.20,111.00 L557.61,110.70 L557.05,110.43 L556.52,110.19 L555.99,109.97 L555.45,109.76 L554.90,109.55 L554.32,109.33 L553.70,109.10 L553.04,108.85 L552.37,108.60 L551.67,108.34 L550.96,108.07 L550.21,107.82 L549.44,107.57 L548.64,107.33 L547.80,107.10 L546.90,106.88 L545.95,106.67 L544.94,106.47 L543.92,106.27 L542.89,106.09 L541.88,105.91 L540.91,105.75 L540.00,105.60 L539.20,105.47 L538.52,105.36 L537.89,105.26 L537.27,105.17 L536.61,105.08 L535.85,105.00 L534.93,104.90 L533.80,104.80 L532.48,104.68 L531.03,104.55 L529.45,104.42 L527.76,104.29 L525.96,104.15 L524.06,104.03 L522.07,103.91 L520.00,103.80 L517.81,103.70 L515.49,103.61 L513.06,103.52 L510.54,103.44 L507.96,103.37 L505.32,103.31 L502.66,103.25 L500.00,103.20 L497.31,103.16 L494.55,103.14 L491.75,103.13 L488.91,103.12 L486.05,103.12 L483.18,103.11 L480.33,103.11 L477.50,103.10" fill="none" stroke="#ff0000" stroke-width="1.4" stroke-linejoin="round" stroke-dasharray="6.437,4.598"/>
<path d="M505.38,102.59 L508.04,102.53 L510.68,102.47 L513.27,102.40 L515.81,102.32 L518.29,102.22 L520.70,102.10 L523.07,101.95 L525.43,101.79 L527.74,101.60 L530.00,101.40 L532.17,101.19 L534.25,100.99 L536.20,100.79 L538.00,100.60 L539.62,100.44 L541.06,100.30 L542.36,100.18 L543.56,100.05 L544.72,99.90 L545.86,99.72 L547.04,99.49 L548.30,99.20 L549.64,98.83 L551.02,98.41 L552.42,97.94 L553.81,97.43 L555.19,96.90 L556.53,96.36 L557.80,95.82 L559.00,95.30 L560.08,94.80 L561.04,94.33 L561.93,93.85 L562.78,93.37 L563.64,92.86 L564.56,92.30 L565.56,91.69 L566.70,91.00 L568.00,90.23 L569.45,89.38 L570.99,88.47 L572.58,87.52 L574.17,86.54 L575.72,85.55 L577.18,84.57 L578.50,83.60 L579.70,82.64 L580.81,81.67 L581.87,80.68 L582.86,79.69 L583.81,78.71 L584.73,77.72 L585.62,76.75 L586.50,75.80 L587.35,74.86 L588.16,73.94 L588.94,73.03 L589.69,72.13 L590.41,71.23 L591.12,70.33 L591.81,69.42 L592.50,68.50 L593.17,67.59 L593.82,66.70 L594.45,65.83 L595.07,64.94 L595.68,64.03 L596.28,63.08 L596.89,62.07 L597.50,61.00 L598.14,59.80 L598.80,58.47 L599.46,57.06 L600.12,55.62 L600.76,54.22 L601.37,52.89 L601.92,51.70 L602.40,50.70 L602.80,49.91 L603.14,49.28 L603.42,48.77 L603.67,48.35 L603.89,47.98 L604.11,47.63 L604.34,47.24 L604.60,46.80" fill="none" stroke="#ff0000" stroke-width="1.4" stroke-linejoin="round" stroke-dasharray="6.185,4.418"/>
<path d="M574.50,155.20 L573.81,155.00 L573.10,154.81 L572.39,154.63 L571.69,154.44 L570.99,154.24 L570.30,154.04 L569.64,153.83 L569.00,153.60 L568.40,153.37 L567.84,153.15 L567.31,152.92 L566.79,152.69 L566.26,152.43 L565.71,152.13 L565.13,151.79 L564.50,151.40 L563.79,150.94 L563.02,150.44 L562.20,149.88 L561.36,149.29 L560.54,148.68 L559.75,148.06 L559.03,147.42 L558.40,146.80 L557.86,146.18 L557.38,145.56 L556.95,144.93 L556.56,144.29 L556.21,143.64 L555.89,142.95 L555.59,142.24 L555.30,141.50 L555.05,140.72 L554.85,139.91 L554.69,139.06 L554.55,138.20 L554.41,137.32 L554.25,136.42 L554.05,135.51 L553.80,134.60 L553.49,133.67 L553.15,132.71 L552.79,131.74 L552.39,130.75 L551.98,129.76 L551.56,128.79 L551.13,127.83 L550.70,126.90 L550.27,125.99 L549.84,125.09 L549.40,124.19 L548.94,123.31 L548.47,122.45 L547.98,121.61 L547.46,120.79 L546.90,120.00 L546.31,119.24 L545.69,118.51 L545.04,117.81 L544.37,117.13 L543.68,116.46 L542.97,115.80 L542.24,115.15 L541.50,114.50 L540.80,113.85 L540.16,113.21 L539.53,112.57 L538.87,111.94 L538.12,111.33 L537.25,110.73 L536.19,110.16 L534.90,109.60 L533.43,109.05 L531.84,108.51 L530.12,107.97 L528.24,107.46 L526.19,106.97 L523.94,106.53 L521.49,106.13 L518.80,105.80 L515.95,105.54 L512.99,105.33 L509.86,105.18 L506.52,105.07 L502.91,104.99 L498.99,104.93 L494.70,104.87 L490.00,104.80 L484.63,104.73 L478.54,104.68 L471.95,104.65 L465.12,104.62 L458.27,104.61 L451.64,104.60 L445.47,104.60 L440.00,104.60 L435.24,104.61 L430.97,104.62 L427.07,104.65 L423.44,104.67 L419.96,104.71 L416.52,104.74 L413.01,104.77 L409.30,104.80 L412.94,104.78 L416.29,104.75 L419.52,104.73 L422.82,104.71 L426.34,104.68 L430.26,104.66 L434.76,104.63 L440.00,104.60 L446.37,104.58 L453.88,104.57 L462.11,104.57 L470.67,104.56 L479.14,104.54 L487.13,104.50 L494.21,104.42 L500.00,104.30 L504.44,104.13 L507.91,103.92 L510.61,103.67 L512.75,103.41 L514.55,103.12 L516.22,102.84 L517.96,102.56 L520.00,102.30 L522.23,102.06 L524.42,101.83 L526.56,101.60 L528.62,101.37 L530.62,101.13 L532.52,100.88 L534.31,100.60 L536.00,100.30 L537.56,99.96 L539.02,99.60 L540.37,99.21 L541.62,98.81 L542.81,98.40 L543.92,97.99 L544.98,97.59 L546.00,97.20 L546.94,96.83 L547.78,96.46 L548.54,96.10 L549.25,95.74 L549.93,95.37 L550.59,95.00 L551.28,94.61 L552.00,94.20 L552.75,93.77 L553.50,93.33 L554.25,92.88 L555.00,92.42 L555.75,91.95 L556.50,91.47 L557.25,90.99 L558.00,90.50 L558.74,90.02 L559.46,89.56 L560.18,89.09 L560.89,88.62 L561.63,88.12 L562.38,87.60 L563.17,87.03 L564.00,86.40 L564.90,85.70 L565.89,84.92 L566.91,84.08 L567.96,83.23 L568.99,82.36 L569.97,81.52 L570.89,80.72 L571.70,80.00 L572.40,79.35 L573.01,78.76 L573.55,78.22 L574.05,77.69 L574.52,77.18 L574.99,76.65 L575.48,76.10 L576.00,75.50 L576.55,74.87 L577.09,74.22 L577.63,73.56 L578.17,72.89 L578.73,72.19 L579.30,71.48 L579.89,70.75 L580.50,70.00 L581.13,69.24 L581.77,68.48 L582.42,67.71 L583.09,66.92 L583.78,66.09 L584.50,65.22 L585.23,64.29 L586.00,63.30 L586.80,62.23 L587.62,61.10 L588.47,59.91 L589.34,58.67 L590.24,57.41 L591.14,56.11 L592.07,54.81 L593.00,53.50 L593.95,52.17 L594.93,50.82 L595.93,49.43 L596.94,48.03 L597.96,46.62 L598.98,45.21 L599.99,43.80 L601.00,42.40" fill="none" stroke="#00ee00" stroke-width="1.4" stroke-linejoin="round"/>
<path d="M599.10,148.80 L598.82,148.52 L598.55,148.26 L598.28,148.00 L598.01,147.74 L597.73,147.47 L597.44,147.17 L597.13,146.85 L596.80,146.50 L596.44,146.11 L596.05,145.68 L595.64,145.23 L595.21,144.76 L594.79,144.27 L594.37,143.78 L593.97,143.29 L593.60,142.80 L593.26,142.32 L592.94,141.84 L592.63,141.35 L592.33,140.86 L592.04,140.36 L591.74,139.85 L591.43,139.33 L591.10,138.80 L590.76,138.25 L590.40,137.69 L590.04,137.12 L589.68,136.54 L589.31,135.95 L588.93,135.36 L588.57,134.78 L588.20,134.20 L587.84,133.63 L587.48,133.06 L587.13,132.49 L586.77,131.92 L586.42,131.35 L586.05,130.78 L585.68,130.19 L585.30,129.60 L584.91,128.99 L584.50,128.37 L584.08,127.73 L583.66,127.09 L583.24,126.46 L582.82,125.82 L582.41,125.20 L582.00,124.60 L581.62,124.03 L581.28,123.48 L580.95,122.96 L580.62,122.44 L580.27,121.90 L579.87,121.35 L579.42,120.75 L578.90,120.10 L578.31,119.39 L577.66,118.65 L576.97,117.86 L576.24,117.05 L575.46,116.22 L574.64,115.38 L573.79,114.54 L572.90,113.70 L571.96,112.85 L570.97,111.96 L569.94,111.06 L568.86,110.15 L567.76,109.26 L566.65,108.39 L565.52,107.57 L564.40,106.80 L563.25,106.08 L562.06,105.39 L560.84,104.73 L559.61,104.10 L558.39,103.51 L557.20,102.96 L556.07,102.46 L555.00,102.00 L554.02,101.60 L553.10,101.27 L552.24,100.98 L551.41,100.74 L550.59,100.52 L549.76,100.31 L548.91,100.11 L548.00,99.90 L547.13,99.69 L546.35,99.50 L545.60,99.33 L544.81,99.16 L543.92,99.00 L542.87,98.84 L541.58,98.68 L540.00,98.50 L538.20,98.31 L536.29,98.12 L534.21,97.92 L531.94,97.72 L529.42,97.52 L526.62,97.34 L523.49,97.16 L520.00,97.00 L516.03,96.86 L511.59,96.73 L506.77,96.62 L501.69,96.51 L496.46,96.41 L491.20,96.31 L486.00,96.21 L481.00,96.10" fill="none" stroke="#00ee00" stroke-width="1.4" stroke-linejoin="round" stroke-dasharray="6.491,4.637"/>
<path d="M507.06,95.23 L511.87,95.07 L516.23,94.92 L520.00,94.80 L523.13,94.71 L525.70,94.67 L527.85,94.65 L529.67,94.64 L531.28,94.62 L532.80,94.57 L534.33,94.47 L536.00,94.30 L537.74,94.06 L539.41,93.75 L541.02,93.41 L542.58,93.02 L544.08,92.63 L545.53,92.23 L546.94,91.85 L548.30,91.50 L549.59,91.18 L550.79,90.88 L551.92,90.59 L553.01,90.31 L554.09,90.01 L555.18,89.70 L556.31,89.37 L557.50,89.00 L558.78,88.61 L560.12,88.19 L561.50,87.77 L562.90,87.32 L564.28,86.85 L565.60,86.36 L566.86,85.84 L568.00,85.30 L569.02,84.74 L569.93,84.15 L570.77,83.55 L571.56,82.92 L572.32,82.27 L573.10,81.58 L573.92,80.86 L574.80,80.10 L575.77,79.27 L576.80,78.38 L577.88,77.43 L578.96,76.46 L580.03,75.48 L581.04,74.53 L581.97,73.63 L582.80,72.80 L583.50,72.04 L584.10,71.33 L584.62,70.66 L585.09,70.02 L585.53,69.39 L585.98,68.77 L586.46,68.14 L587.00,67.50 L587.59,66.86 L588.19,66.24 L588.81,65.63 L589.44,65.02 L590.08,64.40 L590.72,63.75 L591.36,63.05 L592.00,62.30 L592.64,61.49 L593.27,60.65 L593.91,59.76 L594.55,58.84 L595.20,57.90 L595.85,56.94 L596.52,55.97 L597.20,55.00 L597.89,54.02 L598.59,53.04 L599.30,52.05 L600.01,51.04 L600.74,50.01 L601.48,48.95 L602.23,47.84 L603.00,46.70 L603.79,45.50 L604.59,44.25 L605.42,42.95 L606.25,41.63 L607.09,40.29 L607.93,38.95 L608.77,37.61 L609.60,36.30" fill="none" stroke="#00ee00" stroke-width="1.4" stroke-linejoin="round" stroke-dasharray="6.400,4.571"/>
<path d="M551.00,157.50 L550.62,157.10 L550.34,156.76 L550.09,156.44 L549.82,156.11 L549.48,155.73 L549.01,155.28 L548.37,154.71 L547.50,154.00 L546.38,153.13 L545.07,152.13 L543.60,151.02 L541.99,149.82 L540.28,148.58 L538.51,147.31 L536.70,146.04 L534.90,144.80 L533.04,143.54 L531.07,142.22 L529.02,140.87 L526.92,139.51 L524.82,138.16 L522.75,136.86 L520.73,135.63 L518.80,134.50 L516.95,133.47 L515.13,132.51 L513.35,131.62 L511.61,130.77 L509.90,129.96 L508.23,129.17 L506.59,128.39 L505.00,127.60 L503.49,126.80 L502.07,126.01 L500.72,125.23 L499.39,124.46 L498.06,123.73 L496.67,123.03 L495.20,122.39 L493.60,121.80 L491.87,121.27 L490.05,120.80 L488.15,120.37 L486.19,119.98 L484.21,119.63 L482.22,119.30 L480.24,118.99 L478.30,118.70 L476.44,118.43 L474.66,118.20 L472.90,118.00 L471.13,117.82 L469.30,117.66 L467.37,117.50 L465.28,117.35 L463.00,117.20 L460.74,117.05 L458.63,116.90 L456.51,116.75 L454.21,116.62 L451.58,116.49 L448.44,116.38 L444.64,116.28 L440.00,116.20 L434.37,116.14 L427.84,116.09 L420.60,116.07 L412.88,116.05 L404.88,116.04 L396.81,116.03 L388.88,116.02 L381.30,116.00 L388.88,116.01 L396.81,116.02 L404.88,116.04 L412.88,116.06 L420.60,116.07 L427.84,116.07 L434.37,116.05 L440.00,116.00 L444.69,115.93 L448.64,115.83 L451.94,115.72 L454.73,115.60 L457.12,115.46 L459.21,115.32 L461.13,115.16 L463.00,115.00 L464.62,114.83 L465.80,114.66 L466.65,114.47 L467.29,114.27 L467.84,114.07 L468.39,113.86 L469.08,113.63 L470.00,113.40 L471.15,113.15 L472.40,112.89 L473.74,112.61 L475.11,112.32 L476.48,112.03 L477.83,111.74 L479.11,111.46 L480.30,111.20 L481.40,110.96 L482.46,110.73 L483.47,110.52 L484.45,110.31 L485.39,110.09 L486.29,109.85 L487.16,109.59 L488.00,109.30 L488.79,108.98 L489.52,108.64 L490.20,108.29 L490.86,107.92 L491.50,107.53 L492.14,107.11 L492.80,106.67 L493.50,106.20 L494.23,105.71 L494.97,105.20 L495.72,104.67 L496.47,104.12 L497.24,103.54 L498.00,102.93 L498.75,102.28 L499.50,101.60 L500.25,100.87 L500.99,100.09 L501.74,99.27 L502.49,98.42 L503.23,97.56 L503.96,96.69 L504.69,95.83 L505.40,95.00 L506.10,94.18 L506.79,93.37 L507.47,92.56 L508.14,91.76 L508.81,90.95 L509.48,90.14 L510.14,89.32 L510.80,88.50 L511.47,87.66 L512.14,86.79 L512.82,85.91 L513.49,85.03 L514.15,84.17 L514.79,83.33 L515.41,82.54 L516.00,81.80 L516.50,81.19 L516.87,80.73 L517.19,80.36 L517.51,79.99 L517.89,79.56 L518.40,79.00 L519.08,78.23 L520.00,77.20 L521.19,75.87 L522.59,74.29 L524.17,72.51 L525.87,70.61 L527.65,68.62 L529.46,66.60 L531.26,64.61 L533.00,62.70 L534.71,60.84 L536.45,58.97 L538.21,57.08 L539.98,55.19 L541.76,53.29 L543.55,51.39 L545.33,49.49 L547.10,47.60" fill="none" stroke="#0000ff" stroke-width="1.4" stroke-linejoin="round"/>
<path d="M551.00,152.90 L550.16,152.36 L549.35,151.86 L548.57,151.38 L547.77,150.89 L546.95,150.37 L546.06,149.78 L545.09,149.10 L544.00,148.30 L542.80,147.37 L541.52,146.33 L540.15,145.20 L538.73,144.01 L537.24,142.77 L535.72,141.51 L534.17,140.24 L532.60,139.00 L530.97,137.72 L529.26,136.36 L527.50,134.96 L525.70,133.56 L523.90,132.20 L522.14,130.90 L520.43,129.73 L518.80,128.70 L517.22,127.83 L515.66,127.09 L514.12,126.45 L512.62,125.89 L511.18,125.39 L509.82,124.92 L508.55,124.47 L507.40,124.00 L506.42,123.55 L505.61,123.17 L504.93,122.82 L504.31,122.49 L503.70,122.17 L503.03,121.82 L502.25,121.44 L501.30,121.00 L500.18,120.49 L498.96,119.93 L497.66,119.33 L496.28,118.71 L494.86,118.09 L493.41,117.48 L491.95,116.91 L490.50,116.40 L489.06,115.94 L487.62,115.50 L486.16,115.09 L484.68,114.71 L483.16,114.34 L481.60,113.98 L479.98,113.64 L478.30,113.30 L476.59,112.96 L474.87,112.63 L473.13,112.30 L471.33,111.99 L469.44,111.70 L467.44,111.43 L465.30,111.20 L463.00,111.00 L460.52,110.85 L457.90,110.74 L455.14,110.67 L452.27,110.62 L449.30,110.59 L446.25,110.56 L443.15,110.54 L440.00,110.50 L436.77,110.46 L433.42,110.43 L429.99,110.40 L426.49,110.38 L422.95,110.36 L419.41,110.34 L415.88,110.32 L412.40,110.30" fill="none" stroke="#0000ff" stroke-width="1.4" stroke-linejoin="round" stroke-dasharray="6.438,4.598"/>
<path d="M449.30,110.15 L452.27,110.03 L455.14,109.88 L457.90,109.69 L460.52,109.47 L463.00,109.20 L465.31,108.88 L467.47,108.50 L469.50,108.08 L471.42,107.63 L473.24,107.16 L474.98,106.67 L476.66,106.18 L478.30,105.70 L479.89,105.22 L481.39,104.72 L482.83,104.21 L484.19,103.69 L485.49,103.16 L486.72,102.64 L487.89,102.12 L489.00,101.60 L490.01,101.11 L490.90,100.66 L491.70,100.22 L492.45,99.77 L493.18,99.29 L493.93,98.77 L494.72,98.18 L495.60,97.50 L496.56,96.72 L497.58,95.87 L498.64,94.95 L499.71,93.98 L500.79,92.98 L501.86,91.95 L502.90,90.92 L503.90,89.90 L504.86,88.86 L505.81,87.77 L506.74,86.66 L507.65,85.54 L508.54,84.42 L509.42,83.33 L510.27,82.29 L511.10,81.30 L511.85,80.43 L512.50,79.69 L513.10,79.01 L513.69,78.34 L514.32,77.64 L515.06,76.83 L515.93,75.87 L517.00,74.70 L518.24,73.34 L519.60,71.86 L521.07,70.27 L522.66,68.55 L524.34,66.72 L526.13,64.79 L528.02,62.74 L530.00,60.60 L532.12,58.31 L534.40,55.84 L536.81,53.23 L539.30,50.53 L541.84,47.78 L544.40,45.01 L546.93,42.27 L549.40,39.60" fill="none" stroke="#0000ff" stroke-width="1.4" stroke-linejoin="round" stroke-dasharray="6.437,4.598"/>
<ellipse cx="532.5" cy="137.5" rx="14.7" ry="20.4" transform="rotate(-24.8 532.5 137.5)" fill="none" stroke="#444" stroke-width="0.95"/>
<line x1="577" y1="184" x2="552" y2="154.5" stroke="#000" stroke-width="0.8"/>
<path d="M549.6,151.6 L555.2,154.6 L552.0,157.4 Z" fill="#000"/>
<text x="540.2" y="190.2" class="ann">passivating regions</text>
<rect x="356.2" y="3.6" width="281.09999999999997" height="224.3" fill="none" stroke="#000" stroke-width="1.3"/>
<line x1="356.2" y1="227.88" x2="360.2" y2="227.88" stroke="#000" stroke-width="1.1"/>
<line x1="356.2" y1="209.19" x2="358.5" y2="209.19" stroke="#000" stroke-width="1.1"/>
<line x1="356.2" y1="190.50" x2="360.2" y2="190.50" stroke="#000" stroke-width="1.1"/>
<line x1="356.2" y1="171.81" x2="358.5" y2="171.81" stroke="#000" stroke-width="1.1"/>
<line x1="356.2" y1="153.12" x2="360.2" y2="153.12" stroke="#000" stroke-width="1.1"/>
<line x1="356.2" y1="134.43" x2="358.5" y2="134.43" stroke="#000" stroke-width="1.1"/>
<line x1="356.2" y1="115.74" x2="360.2" y2="115.74" stroke="#000" stroke-width="1.1"/>
<line x1="356.2" y1="97.05" x2="358.5" y2="97.05" stroke="#000" stroke-width="1.1"/>
<line x1="356.2" y1="78.36" x2="360.2" y2="78.36" stroke="#000" stroke-width="1.1"/>
<line x1="356.2" y1="59.67" x2="358.5" y2="59.67" stroke="#000" stroke-width="1.1"/>
<line x1="356.2" y1="40.98" x2="360.2" y2="40.98" stroke="#000" stroke-width="1.1"/>
<line x1="356.2" y1="22.29" x2="358.5" y2="22.29" stroke="#000" stroke-width="1.1"/>
<text x="350.8" y="232.48" class="tl" text-anchor="end">-0.2</text>
<text x="350.8" y="195.10" class="tl" text-anchor="end">0.0</text>
<text x="350.8" y="157.72" class="tl" text-anchor="end">0.2</text>
<text x="350.8" y="120.34" class="tl" text-anchor="end">0.4</text>
<text x="350.8" y="82.96" class="tl" text-anchor="end">0.6</text>
<text x="350.8" y="45.58" class="tl" text-anchor="end">0.8</text>
<text x="350.8" y="8.20" class="tl" text-anchor="end">1.0</text>
<line x1="376.50" y1="227.9" x2="376.50" y2="223.9" stroke="#000" stroke-width="1.1"/>
<text x="376.50" y="242.9" class="tl" text-anchor="middle">-8</text>
<line x1="396.57" y1="227.9" x2="396.57" y2="225.6" stroke="#000" stroke-width="1.1"/>
<line x1="416.65" y1="227.9" x2="416.65" y2="223.9" stroke="#000" stroke-width="1.1"/>
<text x="416.65" y="242.9" class="tl" text-anchor="middle">-7</text>
<line x1="436.73" y1="227.9" x2="436.73" y2="225.6" stroke="#000" stroke-width="1.1"/>
<line x1="456.80" y1="227.9" x2="456.80" y2="223.9" stroke="#000" stroke-width="1.1"/>
<text x="456.80" y="242.9" class="tl" text-anchor="middle">-6</text>
<line x1="476.88" y1="227.9" x2="476.88" y2="225.6" stroke="#000" stroke-width="1.1"/>
<line x1="496.95" y1="227.9" x2="496.95" y2="223.9" stroke="#000" stroke-width="1.1"/>
<text x="496.95" y="242.9" class="tl" text-anchor="middle">-5</text>
<line x1="517.02" y1="227.9" x2="517.02" y2="225.6" stroke="#000" stroke-width="1.1"/>
<line x1="537.10" y1="227.9" x2="537.10" y2="223.9" stroke="#000" stroke-width="1.1"/>
<text x="537.10" y="242.9" class="tl" text-anchor="middle">-4</text>
<line x1="557.17" y1="227.9" x2="557.17" y2="225.6" stroke="#000" stroke-width="1.1"/>
<line x1="577.25" y1="227.9" x2="577.25" y2="223.9" stroke="#000" stroke-width="1.1"/>
<text x="577.25" y="242.9" class="tl" text-anchor="middle">-3</text>
<line x1="597.33" y1="227.9" x2="597.33" y2="225.6" stroke="#000" stroke-width="1.1"/>
<line x1="617.40" y1="227.9" x2="617.40" y2="223.9" stroke="#000" stroke-width="1.1"/>
<text x="617.40" y="242.9" class="tl" text-anchor="middle">-2</text>
<line x1="365.3" y1="10.00" x2="382.8" y2="10.00" stroke="#000" stroke-width="1.4"/>
<text transform="translate(385.1,13.20) scale(0.93,1)" class="lg2">(I) 0 mM K<tspan class="sub" dy="1.9">2</tspan><tspan dy="-1.9">S</tspan><tspan class="sub" dy="1.9">2</tspan><tspan dy="-1.9">O</tspan><tspan class="sub" dy="1.9">8</tspan><tspan dy="-1.9"> </tspan>without UV</text>
<line x1="365.3" y1="21.08" x2="382.8" y2="21.08" stroke="#000" stroke-width="1.4" stroke-dasharray="6.1,4.4"/>
<text transform="translate(385.1,24.28) scale(0.93,1)" class="lg2">(II) 0 mM K<tspan class="sub" dy="1.9">2</tspan><tspan dy="-1.9">S</tspan><tspan class="sub" dy="1.9">2</tspan><tspan dy="-1.9">O</tspan><tspan class="sub" dy="1.9">8</tspan><tspan dy="-1.9"> </tspan>with UV</text>
<line x1="365.3" y1="32.16" x2="382.8" y2="32.16" stroke="#ff0000" stroke-width="1.4"/>
<text transform="translate(385.1,35.36) scale(0.93,1)" class="lg2">(III) 40 mM K<tspan class="sub" dy="1.9">2</tspan><tspan dy="-1.9">S</tspan><tspan class="sub" dy="1.9">2</tspan><tspan dy="-1.9">O</tspan><tspan class="sub" dy="1.9">8</tspan><tspan dy="-1.9"> </tspan>without UV</text>
<line x1="365.3" y1="43.24" x2="382.8" y2="43.24" stroke="#ff0000" stroke-width="1.4" stroke-dasharray="6.1,4.4"/>
<text transform="translate(385.1,46.44) scale(0.93,1)" class="lg2">(IV) 40 mM K<tspan class="sub" dy="1.9">2</tspan><tspan dy="-1.9">S</tspan><tspan class="sub" dy="1.9">2</tspan><tspan dy="-1.9">O</tspan><tspan class="sub" dy="1.9">8</tspan><tspan dy="-1.9"> </tspan>with UV</text>
<line x1="365.3" y1="54.32" x2="382.8" y2="54.32" stroke="#00ee00" stroke-width="1.4"/>
<text transform="translate(385.1,57.52) scale(0.93,1)" class="lg2">(V) 80 mM K<tspan class="sub" dy="1.9">2</tspan><tspan dy="-1.9">S</tspan><tspan class="sub" dy="1.9">2</tspan><tspan dy="-1.9">O</tspan><tspan class="sub" dy="1.9">8</tspan><tspan dy="-1.9"> </tspan>without UV</text>
<line x1="365.3" y1="65.40" x2="382.8" y2="65.40" stroke="#00ee00" stroke-width="1.4" stroke-dasharray="6.1,4.4"/>
<text transform="translate(385.1,68.60) scale(0.93,1)" class="lg2">(VI) 80 mM K<tspan class="sub" dy="1.9">2</tspan><tspan dy="-1.9">S</tspan><tspan class="sub" dy="1.9">2</tspan><tspan dy="-1.9">O</tspan><tspan class="sub" dy="1.9">8</tspan><tspan dy="-1.9"> </tspan>with UV</text>
<line x1="365.3" y1="76.48" x2="382.8" y2="76.48" stroke="#0000ff" stroke-width="1.4"/>
<text transform="translate(385.1,79.68) scale(0.93,1)" class="lg2">(VII) only 80 mM K<tspan class="sub" dy="1.9">2</tspan><tspan dy="-1.9">S</tspan><tspan class="sub" dy="1.9">2</tspan><tspan dy="-1.9">O</tspan><tspan class="sub" dy="1.9">8</tspan><tspan dy="-1.9"> </tspan>without UV</text>
<line x1="365.3" y1="87.56" x2="382.8" y2="87.56" stroke="#0000ff" stroke-width="1.4" stroke-dasharray="6.1,4.4"/>
<text transform="translate(385.1,90.76) scale(0.93,1)" class="lg2">(VIII) only 80 mM K<tspan class="sub" dy="1.9">2</tspan><tspan dy="-1.9">S</tspan><tspan class="sub" dy="1.9">2</tspan><tspan dy="-1.9">O</tspan><tspan class="sub" dy="1.9">8</tspan><tspan dy="-1.9"> </tspan>with UV</text>
<text x="614.2" y="23.7" class="pl">(b)</text>
<text transform="translate(330.2,114.9) rotate(-90)" class="al" text-anchor="middle" style="font-size:12.7px" textLength="65" lengthAdjust="spacingAndGlyphs">Evs SCE(V)</text>
<text x="454.8" y="258.6" class="al" style="font-size:12.6px" textLength="64.8" lengthAdjust="spacingAndGlyphs">log(I/Acm<tspan class="sup" dy="-4.8">-2</tspan><tspan dy="4.8">)</tspan></text>
</svg>
</body></html>
